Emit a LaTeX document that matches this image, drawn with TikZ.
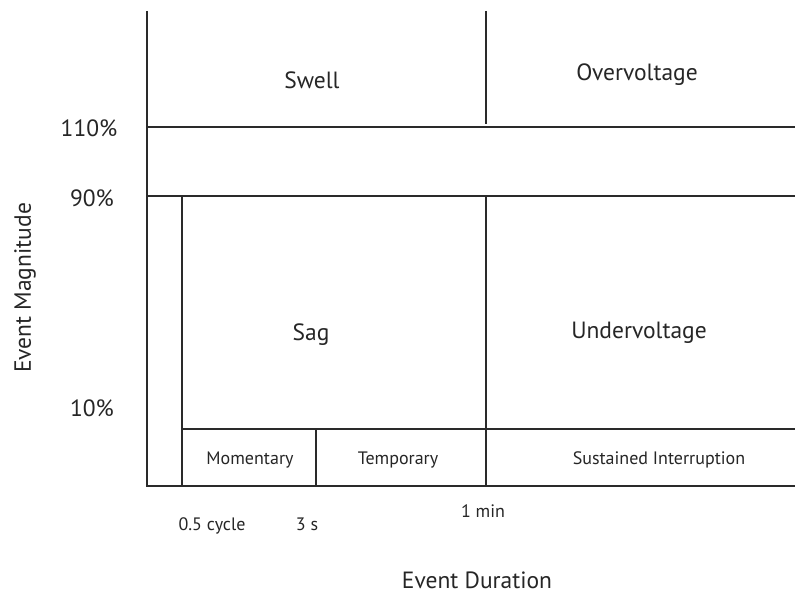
\documentclass[tikz,border=0pt]{standalone}
\usepackage{fontspec}
\setmainfont{PT Sans}
\definecolor{ln}{HTML}{2A2A2A}
\definecolor{tx}{HTML}{262626}
\begin{document}
\begin{tikzpicture}[x=1pt,y=-1pt,
  grid/.style={draw=ln,line width=2pt},
  big/.style={text=tx,font=\fontsize{23.5}{26}\selectfont,inner sep=0pt},
  small/.style={text=tx,font=\fontsize{18}{20}\selectfont,inner sep=0pt}]
\useasboundingbox[fill=white] (0,0) rectangle (795,594);
% frame lines
\coordinate (axT) at (147,11);
\coordinate (axO) at (147,486);
\coordinate (axR) at (795,486);
\draw[grid] (axT) -- (axO) -- (axR);
\draw[grid] (147,127) -- (795,127);
\draw[grid] (147,196) -- (795,196);
\draw[grid] (486,11) -- (486,124);
\draw[grid] (486,196) -- (486,486);
\draw[grid] (182,196) -- (182,486);
\draw[grid] (182,429) -- (795,429);
\draw[grid] (316,429) -- (316,486);
% region labels
\node[big] (swell) at (312,80) {Swell};
\node[big] (over) at (637,75) {Overvoltage};
\node[big] (sag) at (311,335) {Sag};
\node[big] (under) at (639,333) {Undervoltage};
\node[small] (mom) at (250,460) {Momentary};
\node[small] (temp) at (398,460) {Temporary};
\node[small] (sust) at (659,460) {Sustained Interruption};
% axis labels
\node[big] (p110) at (89,128) {110\%};
\node[big] (p90) at (92,198) {90\%};
\node[big] (p10) at (92,408) {10\%};
\node[small,anchor=base] (t05) at (212,530) {0.5 cycle};
\node[small,anchor=base] (t3) at (307,530) {3 s};
\node[small,anchor=base] (t1) at (483,517) {1 min};
\node[big,anchor=base] (xlab) at (477,588) {Event Duration};
\node[big,rotate=90] (ylab) at (25,288) {Event Magnitude};
\end{tikzpicture}
\end{document}
